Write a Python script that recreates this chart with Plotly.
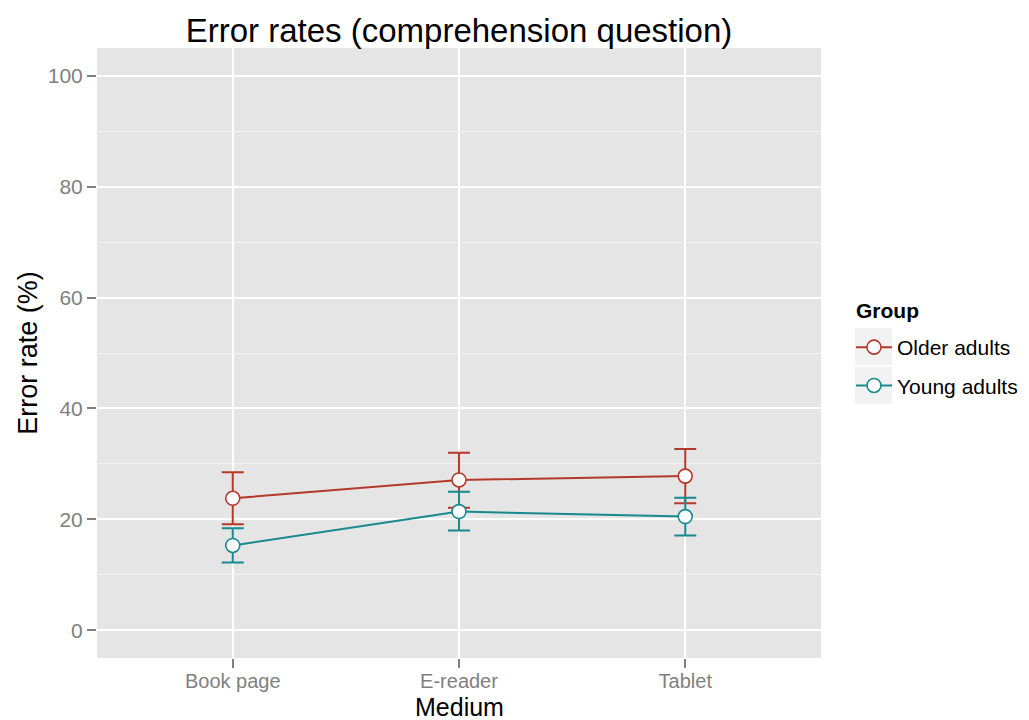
import plotly.graph_objects as go

media = ["Book page", "E-reader", "Tablet"]
groups = ["Older adults", "Young adults"]
older_mean = [23.8, 27.1, 27.8]
older_upper = [28.5, 32.0, 32.7]
older_lower = [19.1, 22.1, 22.9]
young_mean = [15.3, 21.4, 20.5]
young_upper = [18.4, 25.0, 23.9]
young_lower = [12.2, 18.0, 17.1]
colors = ["#B5392A", "#178A8E"]
y_ticks = [0, 20, 40, 60, 80, 100]

FONT = "Liberation Sans, Arial, Helvetica, sans-serif"

# page offset (browser body margin) compensation
OFF = 8
W, H = 1029, 720
PL, PT, PW, PH = 97, 48, 724, 610  # panel in page pixels


def px_x(px):
    return (px - PL) / PW


def px_y(py):
    return (PT + PH - py) / PH


fig = go.Figure()
for i, (name, m, up, lo, c) in enumerate([
    (groups[0], older_mean, older_upper, older_lower, colors[0]),
    (groups[1], young_mean, young_upper, young_lower, colors[1]),
]):
    fig.add_trace(go.Scatter(
        x=media, y=m, name=name, mode="lines+markers", legendgroup=name,
        line=dict(color=c, width=2),
        marker=dict(symbol="circle", size=14, color="white",
                    line=dict(color=c, width=1.6)),
        error_y=dict(type="data", symmetric=False,
                     array=[u - v for u, v in zip(up, m)],
                     arrayminus=[v - l for v, l in zip(m, lo)],
                     color=c, thickness=2, width=11),
    ))

# legend key backgrounds
for y0, y1 in [(328, 365), (367, 404)]:
    fig.add_shape(type="rect", xref="paper", yref="paper",
                  x0=px_x(855), x1=px_x(892), y0=px_y(y1), y1=px_y(y0),
                  fillcolor="#F2F2F2", line=dict(width=0), layer="below")

# legend title
fig.add_annotation(text="<b>Group</b>", xref="paper", yref="paper",
                   x=px_x(854), y=px_y(310), xanchor="left", yanchor="middle",
                   showarrow=False, font=dict(size=21, color="black"))

# x axis title
fig.add_annotation(text="Medium", xref="paper", yref="paper",
                   x=0.5, y=px_y(707), xanchor="center", yanchor="middle",
                   showarrow=False, borderpad=0,
                   font=dict(size=25, color="black"))

fig.update_layout(
    width=W, height=H,
    paper_bgcolor="white", plot_bgcolor="#E5E5E5",
    margin=dict(l=PL - OFF, r=W - PL - PW + OFF, t=PT - OFF,
                b=H - PT - PH + OFF, autoexpand=False),
    font=dict(family=FONT, color="black"),
    title=dict(text="Error rates (comprehension question)",
               x=(PL + PW / 2 - OFF) / W, xanchor="center",
               y=1 - (30 - OFF) / H, yanchor="middle",
               font=dict(size=33, color="black")),
    xaxis=dict(
        automargin=False,
        type="category", range=[-0.6, 2.6],
        showgrid=True, gridcolor="white", gridwidth=2,
        ticks="outside", ticklen=9, tickwidth=1.5, tickcolor="#7F7F7F",
        tickfont=dict(size=20, color="#7F7F7F"), ticklabelstandoff=-4,
        showline=False, zeroline=False,
    ),
    yaxis=dict(
        title=dict(text="Error rate (%)", font=dict(size=27), standoff=2),
        automargin=False,
        range=[-5, 105], tickvals=y_ticks,
        showgrid=True, gridcolor="white", gridwidth=2,
        minor=dict(dtick=20, tick0=10, showgrid=True,
                   gridcolor="#F2F2F2", gridwidth=1, ticks=""),
        ticks="outside", ticklen=9, tickwidth=1.5, tickcolor="#7F7F7F",
        tickfont=dict(size=21, color="#7F7F7F"),
        showline=False, zeroline=False,
    ),
    legend=dict(
        x=px_x(851), xanchor="left", y=px_y(327), yanchor="top",
        font=dict(size=21), bgcolor="rgba(0,0,0,0)",
        itemwidth=36, tracegroupgap=8,
    ),
    showlegend=True,
)

fig.write_html("out.html")
